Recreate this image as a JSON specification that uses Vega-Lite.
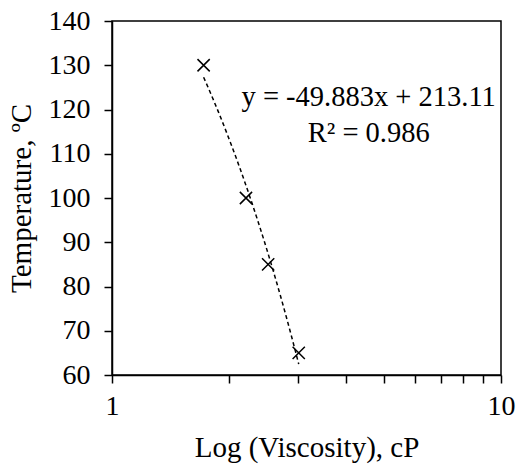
{
  "$schema": "https://vega.github.io/schema/vega-lite/v6.json",
  "autosize": {"type": "none"},
  "width": 389,
  "height": 354,
  "padding": {"left": 112, "top": 21, "right": 15, "bottom": 93},
  "background": "white",
  "config": {
    "font": "Liberation Serif",
    "text": {"font": "Liberation Serif"},
    "view": {"stroke": "black", "strokeWidth": 1.5},
    "axis": {
      "domainColor": "black", "domainWidth": 1.5,
      "tickColor": "black", "tickWidth": 1.5, "tickSize": 8,
      "labelColor": "black", "labelFont": "Liberation Serif", "labelFontSize": 28,
      "titleColor": "black", "titleFont": "Liberation Serif", "titleFontSize": 29, "titleFontWeight": "normal",
      "grid": false
    }
  },
  "datasets": {
    "pts": [
      {"visc": 1.72, "temp": 130},
      {"visc": 2.21, "temp": 100},
      {"visc": 2.52, "temp": 85},
      {"visc": 3.02, "temp": 65}
    ],
    "notes": [
      {"visc": 4.57, "temp": 122.8, "text": "y = -49.883x + 213.11"},
      {"visc": 4.57, "temp": 114.7, "text": "R² = 0.986"}
    ]
  },
  "encoding": {
    "x": {
      "field": "visc", "type": "quantitative",
      "scale": {"type": "log", "domain": [1, 10], "nice": false},
      "axis": {
        "title": "Log (Viscosity), cP",
        "values": [1, 2, 3, 4, 5, 6, 7, 8, 9, 10],
        "format": "d",
        "labelExpr": "datum.value == 1 || datum.value == 10 ? datum.label : ''",
        "labelFont": "Liberation Serif",
        "labelPadding": 9,
        "titlePadding": 13,
        "labelFlush": false,
        "labelOverlap": false
      }
    },
    "y": {
      "field": "temp", "type": "quantitative",
      "scale": {"domain": [60, 140], "nice": false, "zero": false},
      "axis": {
        "title": "Temperature, ºC",
        "values": [60, 70, 80, 90, 100, 110, 120, 130, 140],
        "labelFont": "Liberation Serif",
        "labelPadding": 14,
        "titlePadding": 12
      }
    }
  },
  "layer": [
    {
      "data": {"name": "pts"},
      "transform": [{"regression": "temp", "on": "visc", "method": "poly", "order": 1}],
      "mark": {"type": "line", "color": "black", "strokeWidth": 1.5, "strokeDash": [4, 3]}
    },
    {
      "data": {"name": "pts"},
      "mark": {"type": "point", "shape": "M-1,-1L1,1M-1,1L1,-1", "size": 150, "filled": false, "stroke": "black", "strokeWidth": 1.5, "opacity": 1}
    },
    {
      "data": {"name": "notes"},
      "mark": {"type": "text", "font": "Liberation Serif", "fontSize": 28.5, "color": "black", "align": "center", "baseline": "middle"},
      "encoding": {"text": {"field": "text"}}
    }
  ]
}
